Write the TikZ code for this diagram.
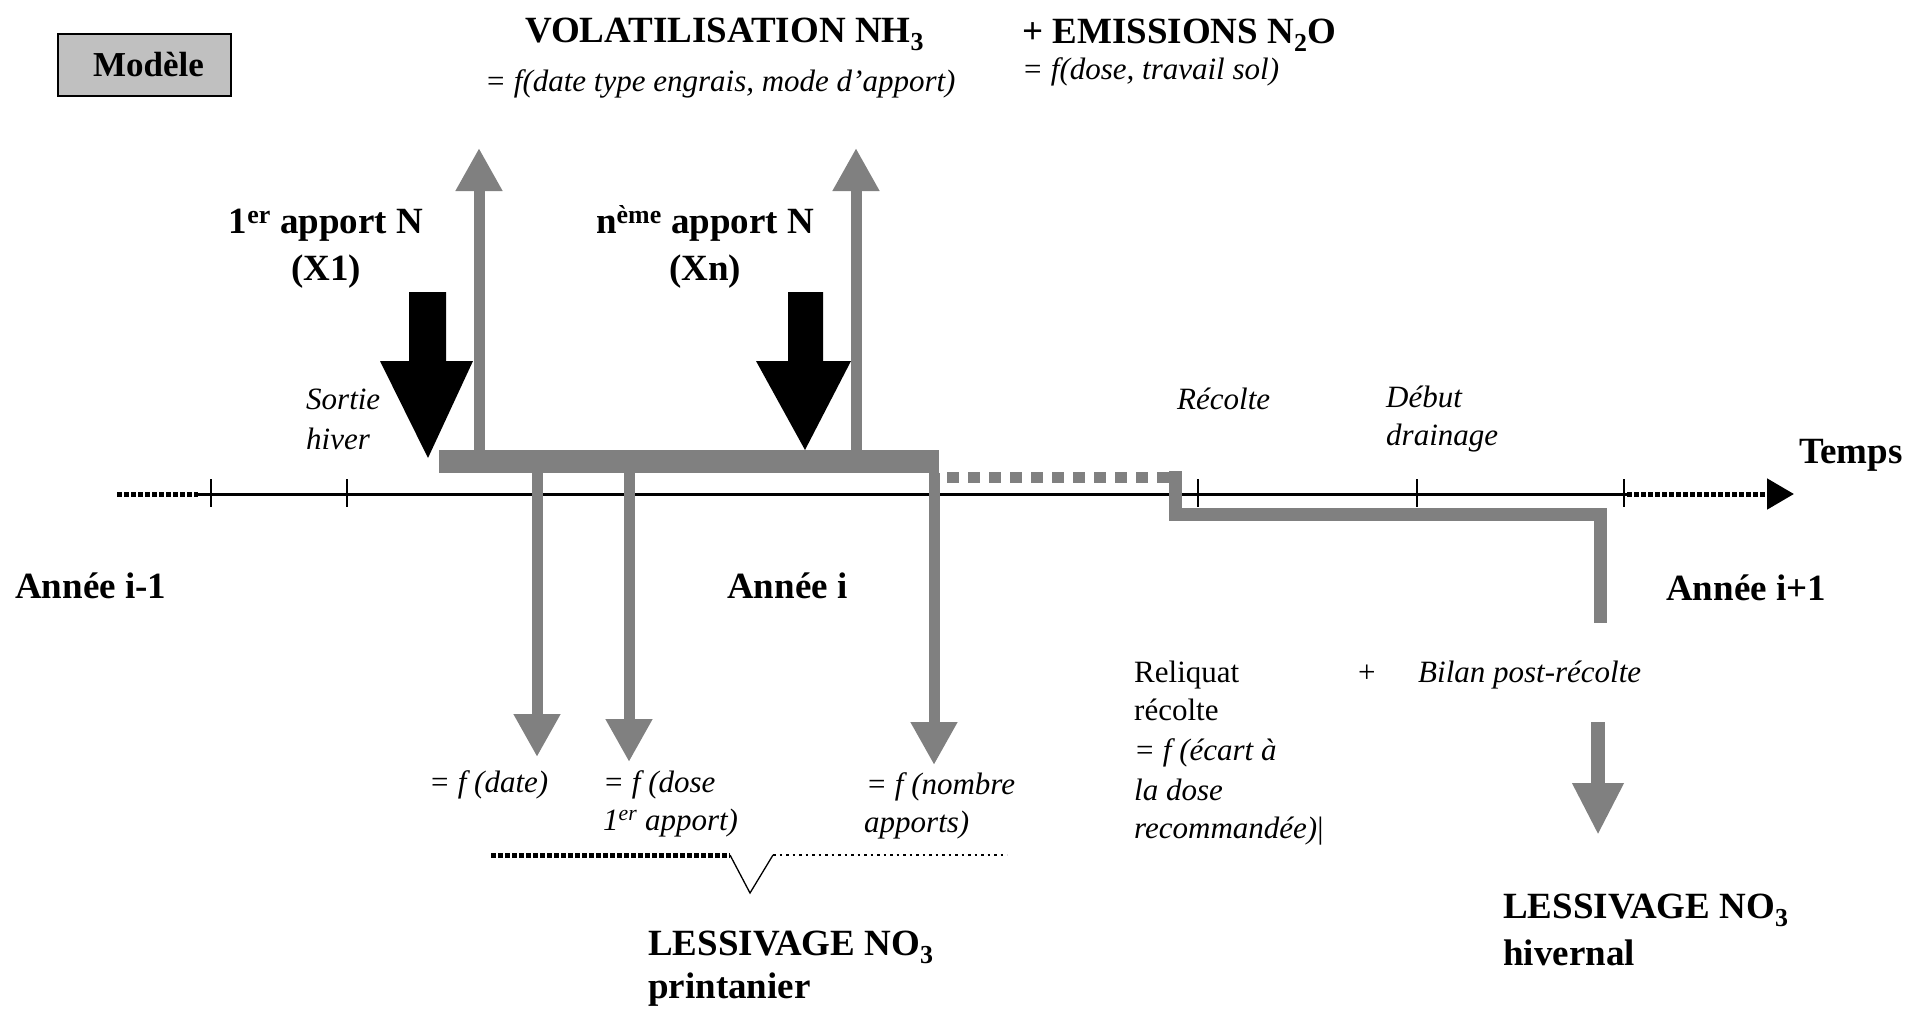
\documentclass[tikz,border=0pt]{standalone}
\usepackage{fontspec}
\setmainfont{Liberation Serif}
\usetikzlibrary{arrows.meta}
\definecolor{gr}{HTML}{808080}
\definecolor{boxgr}{HTML}{C0C0C0}
\begin{document}
\begin{tikzpicture}[x=1pt,y=-1pt,
  bold/.style={font=\fontsize{37}{42}\selectfont\bfseries, inner sep=0pt, anchor=base west},
  ital/.style={font=\fontsize{31}{36}\selectfont\itshape, inner sep=0pt, anchor=base west},
  rom/.style={font=\fontsize{31}{36}\selectfont, inner sep=0pt, anchor=base west},
  garrow/.style={draw=gr, line width=11pt, -{Triangle[width=44pt,length=43pt]}},
  gbig/.style={draw=gr, line width=14pt, -{Triangle[width=48pt,length=52pt]}},
  tickmark/.style={line width=1.5pt},
  dotthick/.style={line width=5pt, dash pattern=on 5pt off 2pt},
  dotthin/.style={line width=2.5pt, dash pattern=on 2.5pt off 4pt},
]
\useasboundingbox (0,0) rectangle (1910,1009);

% model box
\node[draw, line width=2.5pt, fill=boxgr, minimum width=173pt, minimum height=62pt,
      inner sep=0pt, font=\fontsize{35}{40}\selectfont\bfseries] (modele) at (144.5,65) {\hspace*{8pt}Modèle};

% titles
\node[bold] (vol) at (525,42) {VOLATILISATION NH\textsubscript{3}};
\node[ital] (volf) at (485,91) {= f(date type engrais, mode d'apport)};
\node[bold] (emi) at (1022,43) {+ EMISSIONS N\textsubscript{2}O};
\node[ital] (emif) at (1022,79) {= f(dose, travail sol)};

% apports labels
\node[bold, anchor=base] (ap1) at (326,233) {1\textsuperscript{er} apport N};
\node[bold, anchor=base] (ap1x) at (326,280) {(X1)};
\node[bold, anchor=base] (apn) at (705,233) {n\textsuperscript{ème} apport N};
\node[bold, anchor=base] (apnx) at (705,280) {(Xn)};

% timeline labels
\node[ital] (sortie) at (306,409) {Sortie};
\node[ital] (hiver) at (306,449) {hiver};
\node[ital] (recolte) at (1177,409) {Récolte};
\node[ital] (debut) at (1386,407) {Début};
\node[ital] (drain) at (1386,445) {drainage};
\node[bold] (temps) at (1799,463) {Temps};
\node[bold] (an1) at (15,598) {Année i-1};
\node[bold] (an2) at (727,598) {Année i};
\node[bold] (an3) at (1666,600) {Année i+1};

% named coordinates
\coordinate (u1s) at (479,450); \coordinate (u1e) at (479,148);
\coordinate (u2s) at (856,450); \coordinate (u2e) at (856,148);
\coordinate (d1s) at (537,473); \coordinate (d1e) at (537,757);
\coordinate (d2s) at (629,473); \coordinate (d2e) at (629,762);
\coordinate (d3s) at (934,473); \coordinate (d3e) at (934,765);
\coordinate (bs) at (1598,722); \coordinate (be) at (1598,835);
\coordinate (tl0) at (117,494); \coordinate (tl1) at (198,494);
\coordinate (tl2) at (1627,494); \coordinate (tl3) at (1794,494);
\coordinate (ds0) at (947,477.5); \coordinate (ds1) at (1169,477.5);
\coordinate (st0) at (1175,471); \coordinate (st1) at (1175,514);
\coordinate (st2) at (1600,514); \coordinate (st3) at (1600,623);

% timeline
\draw[line width=3pt] (tl1) -- (tl2);
\draw[dotthick] (tl0) -- (tl1);
\draw[dotthick, -{Triangle[width=30pt,length=27pt]}] (tl2) -- (tl3);
\foreach \x in {211,347,1198,1417,1624} \draw[tickmark] (\x,479) -- (\x,507);

% gray bar and step path
\fill[gr] (439,450) rectangle (939,473);
\draw[gr, line width=11pt, dash pattern=on 12pt off 9pt] (ds0) -- (ds1);
\draw[gr, line width=13pt, line join=miter] (st0) -- (st1) -- (st2) -- (st3);

% gray arrows
\draw[garrow] (u1s) -- (u1e);
\draw[garrow] (u2s) -- (u2e);
\draw[garrow] (d1s) -- (d1e);
\draw[garrow] (d2s) -- (d2e);
\draw[garrow] (d3s) -- (d3e);
\draw[gbig] (bs) -- (be);

% black block arrows
\fill (409,292) -- (446,292) -- (446,361) -- (473,361) -- (428,458) -- (380,361) -- (409,361) -- cycle;
\fill (788,292) -- (823,292) -- (823,361) -- (851,361) -- (805,450) -- (756,361) -- (788,361) -- cycle;

% lower labels
\node[ital] (fdate) at (429,792) {= f (date)};
\node[ital] (fdose) at (603,792) {= f (dose};
\node[ital] (fdose2) at (603,830) {1\textsuperscript{er} apport)};
\node[ital] (fnomb) at (866,794) {= f (nombre};
\node[ital] (fnomb2) at (864,832) {apports)};

% bracket line
\coordinate (b0) at (491,855); \coordinate (b1) at (730,855);
\coordinate (b2) at (750,893); \coordinate (b3) at (773,855); \coordinate (b4) at (1007,855);
\draw[dotthick] (b0) -- (b1);
\draw[line width=1.3pt] (b1) -- (b2) -- (b3);
\draw[dotthin] (b3) -- (b4);

\node[bold] (less1) at (648,955) {LESSIVAGE NO\textsubscript{3}};
\node[bold] (less1b) at (648,998) {printanier};

% right side
\node[rom] (rel1) at (1134,682) {Reliquat};
\node[rom] (rel2) at (1134,720) {récolte};
\node[ital] (rel3) at (1134,760) {= f (écart à};
\node[ital] (rel4) at (1134,800) {la dose};
\node[ital] (rel5) at (1134,838) {recommandée)\textup{|}};
\node[rom] (plus) at (1358,682) {+};
\node[ital] (bilan) at (1418,682) {Bilan post-récolte};
\node[bold] (less2) at (1503,918) {LESSIVAGE NO\textsubscript{3}};
\node[bold] (less2b) at (1503,965) {hivernal};
\end{tikzpicture}
\end{document}
